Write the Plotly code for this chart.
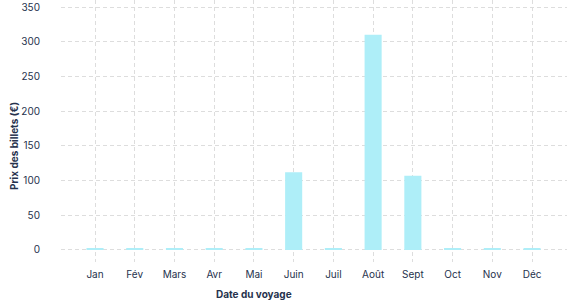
import plotly.graph_objects as go

months = ["Jan", "Fév", "Mars", "Avr", "Mai", "Juin", "Juil", "Août", "Sept", "Oct", "Nov", "Déc"]
prices = [2, 2, 2, 2, 2, 112, 2, 310, 107, 2, 2, 2]
y_ticks = [0, 50, 100, 150, 200, 250, 300, 350]

W, H = 577, 300
L, R, T, B = 61, 10, 0, 38
pw, ph = W - L - R, H - T - B

def px_to_paper(px, py):
    return (px - L) / pw, (H - B - py) / ph

text_color = "#26324d"
font_family = "Inter, Liberation Sans, Arial, sans-serif"

fig = go.Figure()
fig.add_trace(go.Bar(
    x=list(range(len(months))),
    y=prices,
    width=0.43,
    marker=dict(color="#aeeef8", line=dict(width=0)),
    hoverinfo="skip",
))

xt, yt = px_to_paper(254, 294)
xy, yy = px_to_paper(14, 146)

fig.update_layout(
    width=W, height=H,
    margin=dict(l=L, r=R, t=T, b=B),
    paper_bgcolor="white", plot_bgcolor="white",
    showlegend=False,
    font=dict(family=font_family, size=10, color=text_color),
    xaxis=dict(
        range=[-0.856, 11.88],
        tickmode="array",
        tickvals=list(range(len(months))),
        ticktext=months,
        showgrid=True, gridcolor="#dddddd", griddash="4px,3px", gridwidth=1,
        zeroline=False, showline=False, ticks="",
        ticklabelstandoff=5,
        tickfont=dict(size=10, color=text_color),
    ),
    yaxis=dict(
        range=[-17.3, 360.1],
        tickmode="array",
        tickvals=y_ticks,
        showgrid=True, gridcolor="#dddddd", griddash="4px,3px", gridwidth=1,
        zeroline=False, showline=False, ticks="",
        ticklabelstandoff=20,
        tickfont=dict(size=10, color=text_color),
    ),
    annotations=[
        dict(text="<b>Date du voyage</b>", x=xt, y=yt, xref="paper", yref="paper",
             showarrow=False, xanchor="center", yanchor="middle",
             font=dict(size=10, color=text_color)),
        dict(text="<b>Prix des billets (€)</b>", x=xy, y=yy, xref="paper", yref="paper",
             showarrow=False, xanchor="center", yanchor="middle", textangle=-90,
             font=dict(size=10, color=text_color)),
    ],
)

fig.write_html("out.html")
